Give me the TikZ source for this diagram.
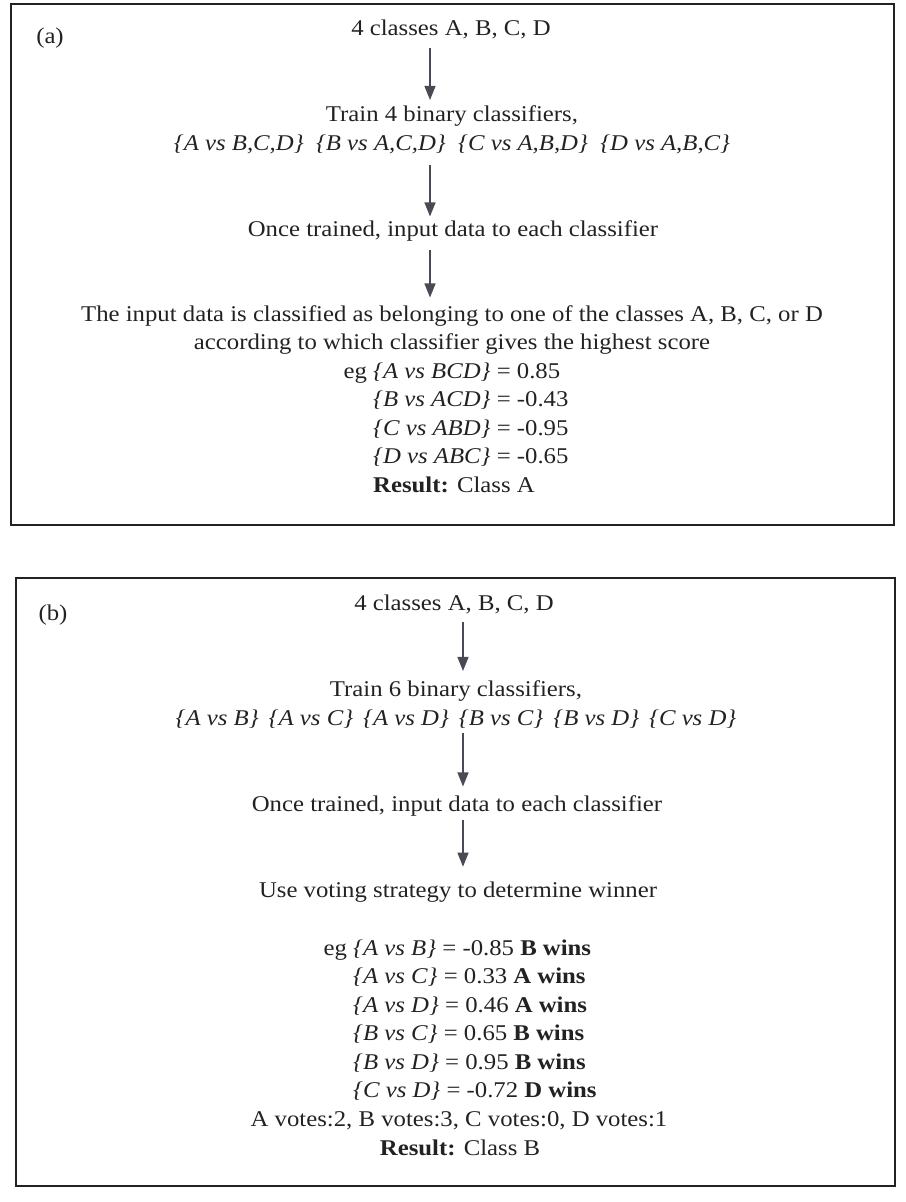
\documentclass[tikz,border=0pt]{standalone}
\usepackage{fontspec}
\setmainfont{Liberation Serif}[FakeStretch=1.1]
\usetikzlibrary{arrows.meta}
\definecolor{inkgray}{HTML}{222222}
\definecolor{arrowgray}{HTML}{4A4A55}
\begin{document}
\begin{tikzpicture}[x=1pt, y=-1pt,
    every node/.style={inner sep=0pt, text=inkgray, font=\fontsize{22.5}{28.5}\selectfont},
    panel/.style={draw=inkgray, line width=1.8pt},
    flow/.style={draw=arrowgray, line width=1.3pt, -{Triangle[width=11pt,length=14pt]}},
    steptext/.style={anchor=base, align=center},
    scorelist/.style={anchor=base west, align=left}]
    \useasboundingbox (0,0) rectangle (905,1202);

    % (a) one against the rest
    % (multi-line nodes sit on the baseline of their last line)
    \begin{scope}[shift={(0,0)}]
        \draw[panel] (11,4) rectangle (894,525);
        \node (alabel) at (50,38) {(a)};
        \coordinate (aaxis) at (430,0);

        \node[steptext] (aclasses) at (451,35) {4 classes A, B, C, D};
        \node[steptext] (atrain) at (452,150) {Train 4 binary classifiers,\\
            \textit{\{A vs B,C,D\}}\ \ \textit{\{B vs A,C,D\}}\ \ \textit{\{C vs A,B,D\}}\ \ \textit{\{D vs A,B,C\}}};
        \node[steptext] (ainput) at (453,236) {Once trained, input data to each classifier};
        \node[steptext] (adecide) at (452,349.5) {The input data is classified as belonging to one of the classes A, B, C, or D\\
            according to which classifier gives the highest score};
        \node[scorelist] (ascores) at (373,463.5) {\llap{eg }\textit{\{A vs BCD\}} = 0.85\\
            \textit{\{B vs ACD\}} = -0.43\\
            \textit{\{C vs ABD\}} = -0.95\\
            \textit{\{D vs ABC\}} = -0.65};
        \node[steptext] (aresult) at (454,492) {\textbf{Result:} Class A};

        % arrows
        \draw[flow] ([yshift=-9pt]aclasses.south -| aaxis) -- ([yshift=5.5pt]atrain.north -| aaxis);
        \draw[flow] ([yshift=-11pt]atrain.south -| aaxis) -- ([yshift=3.5pt]ainput.north -| aaxis);
        \draw[flow] ([yshift=-9pt]ainput.south -| aaxis) -- ([yshift=7.5pt]adecide.north -| aaxis);
    \end{scope}

    % (b) one against one
    \begin{scope}[shift={(0,574)}]
        \draw[panel] (16,4) rectangle (895,612);
        \node (blabel) at (53,41) {(b)};
        \coordinate (baxis) at (463,0);

        \node[steptext] (bclasses) at (454,36) {4 classes A, B, C, D};
        \node[steptext] (btrain) at (456,151) {Train 6 binary classifiers,\\
            \textit{\{A vs B\}}\hspace{10pt}\textit{\{A vs C\}}\hspace{10pt}\textit{\{A vs D\}}\hspace{10pt}\textit{\{B vs C\}}\hspace{10pt}\textit{\{B vs D\}}\hspace{10pt}\textit{\{C vs D\}}};
        \node[steptext] (binput) at (457,237) {Once trained, input data to each classifier};
        \node[steptext] (bvote) at (458,323) {Use voting strategy to determine winner};
        \node[scorelist] (bscores) at (353,523.5) {\llap{eg }\textit{\{A vs B\}} = -0.85 \textbf{B wins}\\
            \textit{\{A vs C\}} = 0.33 \textbf{A wins}\\
            \textit{\{A vs D\}} = 0.46 \textbf{A wins}\\
            \textit{\{B vs C\}} = 0.65 \textbf{B wins}\\
            \textit{\{B vs D\}} = 0.95 \textbf{B wins}\\
            \textit{\{C vs D\}} = -0.72 \textbf{D wins}};
        \node[steptext] (bvotes) at (459,552) {A votes:2, B votes:3, C votes:0, D votes:1};
        \node[steptext] (bresult) at (460,581) {\textbf{Result:} Class B};

        % arrows
        \draw[flow] ([yshift=-8pt]bclasses.south -| baxis) -- ([yshift=9.5pt]btrain.north -| baxis);
        \draw[flow] ([yshift=-4.5pt]btrain.south -| baxis) -- ([yshift=8.5pt]binput.north -| baxis);
        \draw[flow] ([yshift=-4pt]binput.south -| baxis) -- ([yshift=14.5pt]bvote.north -| baxis);
    \end{scope}
\end{tikzpicture}
\end{document}
